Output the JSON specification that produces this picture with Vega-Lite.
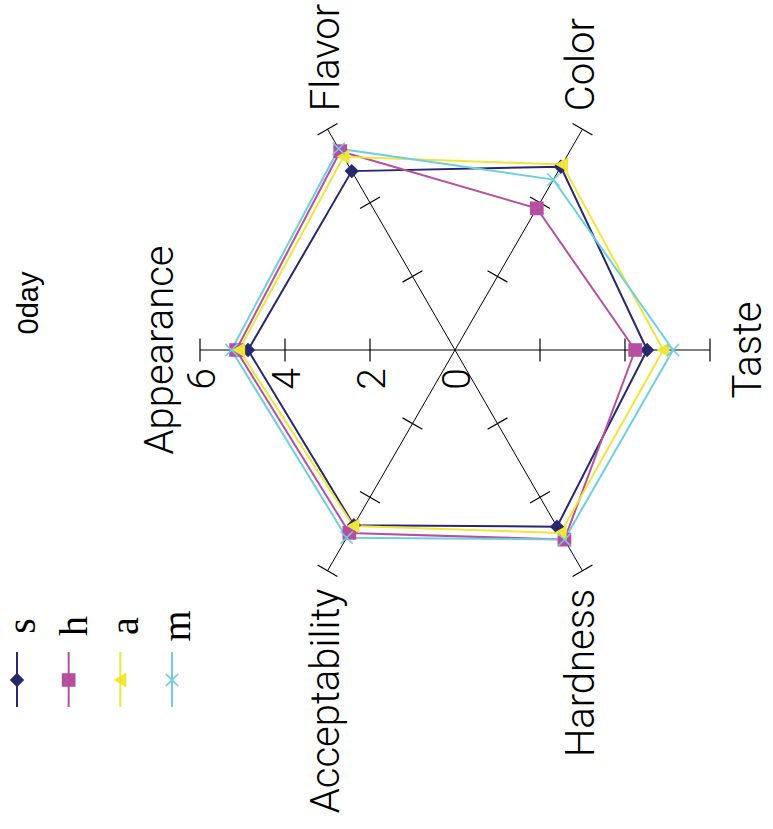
{
  "$schema": "https://vega.github.io/schema/vega-lite/v6.json",
  "width": 773,
  "height": 606,
  "autosize": {"type": "none"},
  "padding": {"left": 0, "top": 0, "right": 0, "bottom": 223},
  "background": "white",
  "config": {"view": {"stroke": null}},
  "title": {"text": "0day", "orient": "left", "anchor": "middle", "frame": "group", "offset": -44, "fontSize": 29, "font": "Liberation Sans", "fontWeight": "normal", "color": "black"},
  "datasets": {
    "scores": [
      {"series": "s", "attr": "Taste", "value": 4.52},
      {"series": "s", "attr": "Color", "value": 4.98},
      {"series": "s", "attr": "Flavor", "value": 4.86},
      {"series": "s", "attr": "Appearance", "value": 4.87},
      {"series": "s", "attr": "Acceptability", "value": 4.76},
      {"series": "s", "attr": "Hardness", "value": 4.8},
      {"series": "h", "attr": "Taste", "value": 4.24},
      {"series": "h", "attr": "Color", "value": 3.85},
      {"series": "h", "attr": "Flavor", "value": 5.4},
      {"series": "h", "attr": "Appearance", "value": 5.15},
      {"series": "h", "attr": "Acceptability", "value": 4.97},
      {"series": "h", "attr": "Hardness", "value": 5.15},
      {"series": "a", "attr": "Taste", "value": 4.9},
      {"series": "a", "attr": "Color", "value": 5.04},
      {"series": "a", "attr": "Flavor", "value": 5.25},
      {"series": "a", "attr": "Appearance", "value": 5.08},
      {"series": "a", "attr": "Acceptability", "value": 4.78},
      {"series": "a", "attr": "Hardness", "value": 4.97},
      {"series": "m", "attr": "Taste", "value": 5.13},
      {"series": "m", "attr": "Color", "value": 4.63},
      {"series": "m", "attr": "Flavor", "value": 5.47},
      {"series": "m", "attr": "Appearance", "value": 5.26},
      {"series": "m", "attr": "Acceptability", "value": 5.1},
      {"series": "m", "attr": "Hardness", "value": 5.15}
    ],
    "attributes": [
      {"attr": "Taste"}, {"attr": "Color"}, {"attr": "Flavor"},
      {"attr": "Appearance"}, {"attr": "Acceptability"}, {"attr": "Hardness"}
    ],
    "ticks": [
      {"attr": "Taste", "r": 2}, {"attr": "Taste", "r": 4}, {"attr": "Taste", "r": 6},
      {"attr": "Color", "r": 2}, {"attr": "Color", "r": 4}, {"attr": "Color", "r": 6},
      {"attr": "Flavor", "r": 2}, {"attr": "Flavor", "r": 4}, {"attr": "Flavor", "r": 6},
      {"attr": "Appearance", "r": 2}, {"attr": "Appearance", "r": 4}, {"attr": "Appearance", "r": 6},
      {"attr": "Acceptability", "r": 2}, {"attr": "Acceptability", "r": 4}, {"attr": "Acceptability", "r": 6},
      {"attr": "Hardness", "r": 2}, {"attr": "Hardness", "r": 4}, {"attr": "Hardness", "r": 6}
    ],
    "rings": [{"r": 0}, {"r": 2}, {"r": 4}, {"r": 6}],
    "series": [{"series": "s"}, {"series": "h"}, {"series": "a"}, {"series": "m"}]
  },
  "resolve": {"scale": {"x": "independent", "y": "independent"}},
  "layer": [
    {
      "data": {"name": "attributes"},
      "transform": [
        {"calculate": "indexof(['Taste','Color','Flavor','Appearance','Acceptability','Hardness'], datum.attr) * PI / 3", "as": "a"},
        {"calculate": "0", "as": "ox"},
        {"calculate": "6 * cos(datum.a)", "as": "ex"},
        {"calculate": "6 * sin(datum.a)", "as": "ey"}
      ],
      "mark": {"type": "rule", "color": "black", "strokeWidth": 1},
      "encoding": {
        "x": {"field": "ox", "type": "quantitative", "scale": {"domain": [-10.7059, 7.4824], "nice": false, "zero": false}, "axis": null},
        "y": {"field": "ox", "type": "quantitative", "scale": {"domain": [-6.0235, 8.2353], "nice": false, "zero": false}, "axis": null},
        "x2": {"field": "ex"},
        "y2": {"field": "ey"}
      }
    },
    {
      "data": {"name": "ticks"},
      "transform": [
        {"calculate": "indexof(['Taste','Color','Flavor','Appearance','Acceptability','Hardness'], datum.attr) * PI / 3", "as": "a"},
        {"calculate": "datum.r * cos(datum.a) - 0.27 * sin(datum.a)", "as": "tx1"},
        {"calculate": "datum.r * sin(datum.a) + 0.27 * cos(datum.a)", "as": "ty1"},
        {"calculate": "datum.r * cos(datum.a) + 0.27 * sin(datum.a)", "as": "tx2"},
        {"calculate": "datum.r * sin(datum.a) - 0.27 * cos(datum.a)", "as": "ty2"}
      ],
      "mark": {"type": "rule", "color": "black", "strokeWidth": 1.2},
      "encoding": {
        "x": {"field": "tx1", "type": "quantitative", "scale": {"domain": [-10.7059, 7.4824], "nice": false, "zero": false}, "axis": null},
        "y": {"field": "ty1", "type": "quantitative", "scale": {"domain": [-6.0235, 8.2353], "nice": false, "zero": false}, "axis": null},
        "x2": {"field": "tx2"},
        "y2": {"field": "ty2"}
      }
    },
    {
      "data": {"name": "attributes"},
      "transform": [
        {"calculate": "indexof(['Taste','Color','Flavor','Appearance','Acceptability','Hardness'], datum.attr) * PI / 3", "as": "a"},
        {"calculate": "abs(sin(datum.a)) < 0.1 ? 'side' : (sin(datum.a) > 0 ? 'top' : 'bottom')", "as": "pos"},
        {"calculate": "6 * cos(datum.a) + (abs(sin(datum.a)) < 0.1 ? (cos(datum.a) > 0 ? 0.92 : -0.92) : 0)", "as": "lx"},
        {"calculate": "6 * sin(datum.a) + (abs(sin(datum.a)) < 0.1 ? 0 : (sin(datum.a) > 0 ? 0.42 : -0.42))", "as": "ly"},
        {"filter": "datum.pos === 'top'"}
      ],
      "mark": {"type": "text", "angle": 270, "align": "left", "baseline": "middle", "font": "Roboto", "fontWeight": 300, "fontSize": 40, "color": "black"},
      "encoding": {
        "x": {"field": "lx", "type": "quantitative", "scale": {"domain": [-10.7059, 7.4824], "nice": false, "zero": false}, "axis": null},
        "y": {"field": "ly", "type": "quantitative", "scale": {"domain": [-6.0235, 8.2353], "nice": false, "zero": false}, "axis": null},
        "text": {"field": "attr", "type": "nominal"}
      }
    },
    {
      "data": {"name": "attributes"},
      "transform": [
        {"calculate": "indexof(['Taste','Color','Flavor','Appearance','Acceptability','Hardness'], datum.attr) * PI / 3", "as": "a"},
        {"calculate": "abs(sin(datum.a)) < 0.1 ? 'side' : (sin(datum.a) > 0 ? 'top' : 'bottom')", "as": "pos"},
        {"calculate": "6 * cos(datum.a) + (abs(sin(datum.a)) < 0.1 ? (cos(datum.a) > 0 ? 0.92 : -0.92) : 0)", "as": "lx"},
        {"calculate": "6 * sin(datum.a) + (abs(sin(datum.a)) < 0.1 ? 0 : (sin(datum.a) > 0 ? 0.42 : -0.42))", "as": "ly"},
        {"filter": "datum.pos === 'side'"}
      ],
      "mark": {"type": "text", "angle": 270, "align": "center", "baseline": "middle", "font": "Roboto", "fontWeight": 300, "fontSize": 40, "color": "black"},
      "encoding": {
        "x": {"field": "lx", "type": "quantitative", "scale": {"domain": [-10.7059, 7.4824], "nice": false, "zero": false}, "axis": null},
        "y": {"field": "ly", "type": "quantitative", "scale": {"domain": [-6.0235, 8.2353], "nice": false, "zero": false}, "axis": null},
        "text": {"field": "attr", "type": "nominal"}
      }
    },
    {
      "data": {"name": "attributes"},
      "transform": [
        {"calculate": "indexof(['Taste','Color','Flavor','Appearance','Acceptability','Hardness'], datum.attr) * PI / 3", "as": "a"},
        {"calculate": "abs(sin(datum.a)) < 0.1 ? 'side' : (sin(datum.a) > 0 ? 'top' : 'bottom')", "as": "pos"},
        {"calculate": "6 * cos(datum.a) + (abs(sin(datum.a)) < 0.1 ? (cos(datum.a) > 0 ? 0.92 : -0.92) : 0)", "as": "lx"},
        {"calculate": "6 * sin(datum.a) + (abs(sin(datum.a)) < 0.1 ? 0 : (sin(datum.a) > 0 ? 0.42 : -0.42))", "as": "ly"},
        {"filter": "datum.pos === 'bottom'"}
      ],
      "mark": {"type": "text", "angle": 270, "align": "right", "baseline": "middle", "font": "Roboto", "fontWeight": 300, "fontSize": 40, "color": "black"},
      "encoding": {
        "x": {"field": "lx", "type": "quantitative", "scale": {"domain": [-10.7059, 7.4824], "nice": false, "zero": false}, "axis": null},
        "y": {"field": "ly", "type": "quantitative", "scale": {"domain": [-6.0235, 8.2353], "nice": false, "zero": false}, "axis": null},
        "text": {"field": "attr", "type": "nominal"}
      }
    },
    {
      "data": {"name": "rings"},
      "transform": [{"calculate": "-datum.r", "as": "nx"}, {"calculate": "0", "as": "ny"}],
      "mark": {"type": "text", "angle": 270, "align": "center", "baseline": "middle", "font": "Roboto", "fontWeight": 300, "fontSize": 39, "color": "black", "xOffset": 3, "yOffset": 29},
      "encoding": {
        "x": {"field": "nx", "type": "quantitative", "scale": {"domain": [-10.7059, 7.4824], "nice": false, "zero": false}, "axis": null},
        "y": {"field": "ny", "type": "quantitative", "scale": {"domain": [-6.0235, 8.2353], "nice": false, "zero": false}, "axis": null},
        "text": {"field": "r", "type": "quantitative"}
      }
    },
    {
      "data": {"name": "scores"},
      "transform": [
        {"calculate": "indexof(['Taste','Color','Flavor','Appearance','Acceptability','Hardness'], datum.attr) * PI / 3", "as": "a"},
        {"calculate": "datum.value * cos(datum.a)", "as": "px"},
        {"calculate": "datum.value * sin(datum.a)", "as": "py"}
      ],
      "mark": {"type": "line", "interpolate": "linear-closed", "strokeWidth": 2},
      "encoding": {
        "x": {"field": "px", "type": "quantitative", "scale": {"domain": [-10.7059, 7.4824], "nice": false, "zero": false}, "axis": null},
        "y": {"field": "py", "type": "quantitative", "scale": {"domain": [-6.0235, 8.2353], "nice": false, "zero": false}, "axis": null},
        "color": {"field": "series", "type": "nominal", "scale": {"domain": ["s", "h", "a", "m"], "range": ["#28286f", "#b64fa2", "#f0e63a", "#6fcfe0"]}, "legend": null},
        "order": {"field": "a", "type": "quantitative"}
      }
    },
    {
      "data": {"name": "scores"},
      "transform": [
        {"calculate": "indexof(['Taste','Color','Flavor','Appearance','Acceptability','Hardness'], datum.attr) * PI / 3", "as": "a"},
        {"calculate": "datum.value * cos(datum.a)", "as": "px"},
        {"calculate": "datum.value * sin(datum.a)", "as": "py"}
      ],
      "mark": {"type": "point", "filled": true, "size": 150, "strokeWidth": 1.5, "opacity": 1},
      "encoding": {
        "x": {"field": "px", "type": "quantitative", "scale": {"domain": [-10.7059, 7.4824], "nice": false, "zero": false}, "axis": null},
        "y": {"field": "py", "type": "quantitative", "scale": {"domain": [-6.0235, 8.2353], "nice": false, "zero": false}, "axis": null},
        "color": {"field": "series", "type": "nominal", "scale": {"domain": ["s", "h", "a", "m"], "range": ["#28286f", "#b64fa2", "#f0e63a", "#6fcfe0"]}, "legend": null},
        "shape": {"field": "series", "type": "nominal", "scale": {"domain": ["s", "h", "a", "m"], "range": ["diamond", "square", "triangle-left", "M-1,-1L1,1M-1,1L1,-1"]}, "legend": null},
        "stroke": {"field": "series", "type": "nominal", "scale": {"domain": ["s", "h", "a", "m"], "range": ["#28286f", "#b64fa2", "#f0e63a", "#6fcfe0"]}, "legend": null}
      }
    },
    {
      "data": {"name": "series"},
      "mark": {"type": "rule", "strokeWidth": 2, "y": 652, "y2": 707},
      "encoding": {
        "x": {"field": "series", "type": "nominal", "scale": {"type": "point", "domain": ["s", "h", "a", "m"], "range": [17, 172], "padding": 0}, "axis": null},
        "color": {"field": "series", "type": "nominal", "scale": {"domain": ["s", "h", "a", "m"], "range": ["#28286f", "#b64fa2", "#f0e63a", "#6fcfe0"]}, "legend": null}
      }
    },
    {
      "data": {"name": "series"},
      "mark": {"type": "point", "filled": true, "size": 150, "strokeWidth": 1.5, "opacity": 1, "y": 680},
      "encoding": {
        "x": {"field": "series", "type": "nominal", "scale": {"type": "point", "domain": ["s", "h", "a", "m"], "range": [17, 172], "padding": 0}, "axis": null},
        "color": {"field": "series", "type": "nominal", "scale": {"domain": ["s", "h", "a", "m"], "range": ["#28286f", "#b64fa2", "#f0e63a", "#6fcfe0"]}, "legend": null},
        "shape": {"field": "series", "type": "nominal", "scale": {"domain": ["s", "h", "a", "m"], "range": ["diamond", "square", "triangle-left", "M-1,-1L1,1M-1,1L1,-1"]}, "legend": null},
        "stroke": {"field": "series", "type": "nominal", "scale": {"domain": ["s", "h", "a", "m"], "range": ["#28286f", "#b64fa2", "#f0e63a", "#6fcfe0"]}, "legend": null}
      }
    },
    {
      "data": {"name": "series"},
      "mark": {"type": "text", "angle": 270, "align": "center", "baseline": "alphabetic", "dy": 18, "y": 626, "font": "Liberation Serif", "fontSize": 40, "color": "black"},
      "encoding": {
        "x": {"field": "series", "type": "nominal", "scale": {"type": "point", "domain": ["s", "h", "a", "m"], "range": [17, 172], "padding": 0}, "axis": null},
        "text": {"field": "series", "type": "nominal"}
      }
    }
  ]
}
